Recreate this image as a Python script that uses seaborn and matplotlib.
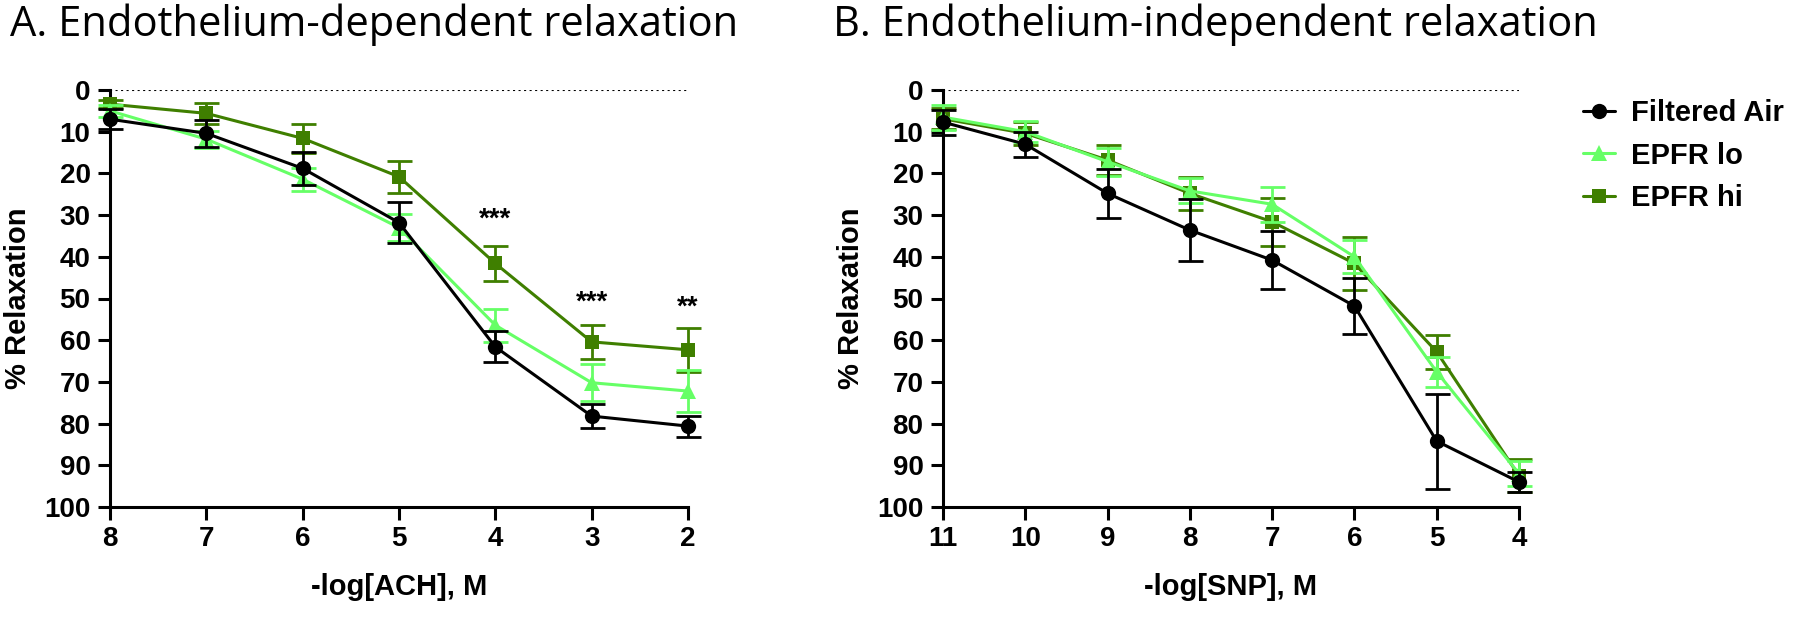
import pandas
import matplotlib
matplotlib.use('Agg')
import matplotlib.pyplot as plt
from matplotlib.lines import Line2D
import seaborn

# Painel A: acetilcolina
ach_x = [8, 7, 6, 5, 4, 3, 2]
ach_air = [7.0, 10.4, 18.8, 31.8, 61.6, 78.2, 80.6]
ach_air_sem = [2.4, 3.3, 4.0, 4.9, 3.7, 2.8, 2.5]
ach_lo = [5.0, 11.8, 21.4, 33.0, 56.4, 70.2, 72.2]
ach_lo_sem = [1.5, 2.0, 2.8, 3.2, 4.0, 4.5, 5.0]
ach_hi = [3.4, 5.6, 11.6, 20.8, 41.6, 60.4, 62.3]
ach_hi_sem = [1.0, 2.5, 3.5, 3.8, 4.3, 4.0, 5.3]

# Painel B: nitroprussiato
snp_x = [11, 10, 9, 8, 7, 6, 5, 4]
snp_air = [7.7, 13.0, 24.8, 33.6, 40.8, 51.8, 84.2, 94.0]
snp_air_sem = [3.0, 3.0, 5.8, 7.4, 7.0, 6.8, 11.4, 2.5]
snp_lo = [6.5, 10.0, 17.2, 24.2, 27.4, 40.0, 67.6, 92.0]
snp_lo_sem = [3.0, 2.5, 3.4, 3.0, 4.2, 4.0, 3.6, 3.0]
snp_hi = [6.9, 10.4, 16.8, 24.8, 31.6, 41.6, 62.8, 92.5]
snp_hi_sem = [2.5, 2.8, 3.7, 4.0, 5.8, 6.4, 4.0, 4.0]

grupos = ['Filtered Air', 'EPFR lo', 'EPFR hi']
cores = {'Filtered Air': '#000000', 'EPFR lo': '#66ff66', 'EPFR hi': '#3f7f00'}
marcadores = {'Filtered Air': 'o', 'EPFR lo': '^', 'EPFR hi': 's'}
tamanhos = {'Filtered Air': 11, 'EPFR lo': 11, 'EPFR hi': 10}
ordem = {'EPFR hi': 3, 'EPFR lo': 4, 'Filtered Air': 5}

# asteriscos do painel A
star_x = [4, 3, 2]
star_y = [31.2, 51.0, 52.3]
star_txt = ['***', '***', '**']

seaborn.set_style('ticks')
plt.rcParams['font.family'] = ['Liberation Sans', 'DejaVu Sans']
plt.rcParams['font.weight'] = 'bold'
plt.rcParams['axes.labelweight'] = 'bold'
for k in ['text.color', 'axes.labelcolor', 'xtick.color', 'ytick.color',
          'axes.edgecolor']:
    plt.rcParams[k] = 'black'


def monta_df(x, series):
    linhas = []
    for g, (vals, sem) in series.items():
        for xi, v, s in zip(x, vals, sem):
            linhas.append({'dose': xi, 'relax': v, 'sem': s, 'grupo': g})
    return pandas.DataFrame(linhas)


def painel(ax, df, xlim, xlabel):
    for g in ['EPFR hi', 'EPFR lo', 'Filtered Air']:
        d = df[df['grupo'] == g]
        seaborn.lineplot(data=d, x='dose', y='relax', color=cores[g],
                         marker=marcadores[g], markersize=tamanhos[g],
                         markeredgewidth=0, linewidth=2.2, legend=False,
                         clip_on=False, zorder=ordem[g], ax=ax)
        ax.errorbar(d['dose'], d['relax'], yerr=d['sem'], fmt='none',
                    ecolor=cores[g], elinewidth=2.0, capsize=9, capthick=2.0,
                    clip_on=False, zorder=ordem[g])
    ax.axhline(0, ls=':', color='black', lw=1.5, zorder=1)
    ax.set_xlim(xlim)
    ax.set_ylim(100, 0)
    ax.set_xticks(list(range(xlim[1], xlim[0] + 1)))
    ax.set_yticks(list(range(0, 101, 10)))
    seaborn.despine(ax=ax)
    for s in ['left', 'bottom']:
        ax.spines[s].set_linewidth(2.2)
    ax.tick_params(width=2.2, length=9, labelsize=20, pad=5, color='black')
    for lab in ax.get_xticklabels() + ax.get_yticklabels():
        lab.set_fontweight('bold')
    ax.set_xlabel(xlabel, fontsize=21, labelpad=15)
    ax.set_ylabel('% Relaxation', fontsize=21, labelpad=9)


fig = plt.figure(figsize=(18, 6.22), dpi=100)
ax_a = fig.add_axes([110 / 1800, 1 - 507 / 622, 578 / 1800, 417 / 622])
ax_b = fig.add_axes([943 / 1800, 1 - 507 / 622, 576 / 1800, 417 / 622])

df_a = monta_df(ach_x, {'Filtered Air': (ach_air, ach_air_sem),
                        'EPFR lo': (ach_lo, ach_lo_sem),
                        'EPFR hi': (ach_hi, ach_hi_sem)})
df_b = monta_df(snp_x, {'Filtered Air': (snp_air, snp_air_sem),
                        'EPFR lo': (snp_lo, snp_lo_sem),
                        'EPFR hi': (snp_hi, snp_hi_sem)})

painel(ax_a, df_a, (8, 2), '-log[ACH], M')
painel(ax_b, df_b, (11, 4), '-log[SNP], M')

for xs, ys, t in zip(star_x, star_y, star_txt):
    ax_a.text(xs, ys, t, ha='center', va='center', fontsize=20, zorder=6)

fig.text(10 / 1800, 1 - 36 / 622, 'A. Endothelium-dependent relaxation',
         fontsize=30, family='Open Sans', weight='normal', va='baseline')
fig.text(833 / 1800, 1 - 36 / 622, 'B. Endothelium-independent relaxation',
         fontsize=30, family='Open Sans', weight='normal', va='baseline')

handles = [Line2D([], [], color=cores[g], marker=marcadores[g],
                  markersize=tamanhos[g], markeredgewidth=0, linewidth=2.2)
           for g in grupos]
fig.legend(handles, grupos, loc='upper left',
           bbox_to_anchor=(1583 / 1800, 1 - 99 / 622), frameon=False,
           fontsize=21, handlelength=1.1, handletextpad=0.55,
           labelspacing=0.5, borderpad=0, borderaxespad=0)

fig.savefig('out.png', dpi=100)
